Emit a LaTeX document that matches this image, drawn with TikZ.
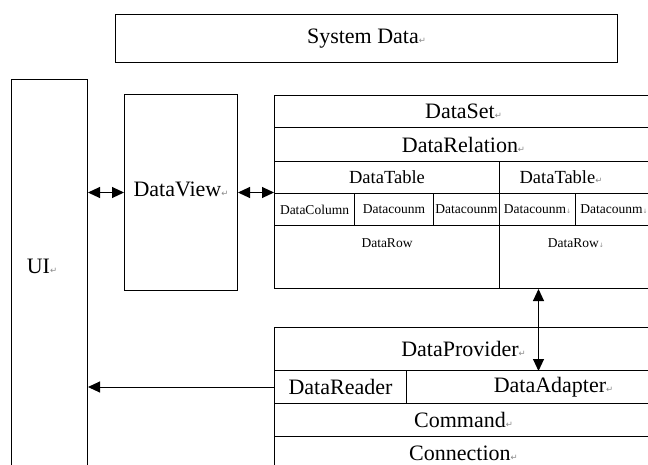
\documentclass[tikz,border=0pt]{standalone}
\usepackage{fontspec}
\setmainfont{Liberation Serif}
\newfontfamily\markfont{DejaVu Sans}
\usepackage{tikz}
\usetikzlibrary{arrows.meta}
\usepackage{xcolor}
\definecolor{markgray}{HTML}{8A8A8A}
% Word-style paragraph and line-break marks
\newcommand{\pmark}{{\markfont\fontsize{8.5}{8.5}\selectfont\textcolor{markgray}{↵}}}
\newcommand{\lmark}{{\markfont\fontsize{6}{6}\selectfont\textcolor{markgray}{↓}}}

\begin{document}
\begin{tikzpicture}[
    x=1pt, y=-1pt,
    >={Triangle[length=12pt, width=11pt]},
    cell/.style 2 args={draw, line width=1pt, inner sep=0pt, anchor=north west,
        minimum width=#1pt, minimum height=#2pt, font=\fontsize{22}{22}\selectfont},
    tabletext/.style={font=\fontsize{18.5}{18.5}\selectfont},
    smalltext/.style={font=\fontsize{13.5}{13.5}\selectfont},
    link/.style={line width=1pt}
]
    \useasboundingbox (0,0) rectangle (648,464);

    \node[cell={502}{48}] (sysdata) at (115,14) {System Data\pmark};

    % UI and DataView columns
    \node[cell={76}{420}] (ui) at (11,79) {};
    \node[font=\fontsize{22}{22}\selectfont] (uitext) at (42,266) {UI\pmark};
    \node[cell={113}{196}] (dataview) at (124,94) {\raisebox{6pt}{DataView\pmark}};

    % DataSet block
    \node[cell={378}{32}] (dataset) at (274,95) {DataSet\pmark};
    \node[cell={378}{34}] (relation) at (274,127) {DataRelation\pmark};
    \node[cell={225}{32}, tabletext] (tableleft) at (274,161) {DataTable};
    \node[cell={153}{32}, tabletext] (tableright) at (499,161) {\hspace*{-30pt}DataTable\pmark};
    \node[cell={80}{32}, smalltext] (col1) at (274,193) {DataColumn};
    \node[cell={79}{32}, smalltext] (col2) at (354,193) {Datacounm};
    \node[cell={66}{32}, smalltext] (col3) at (433,193) {Datacounm};
    \node[cell={76}{32}, smalltext] (col4) at (499,193) {Datacounm\lmark};
    \node[cell={77}{32}, smalltext] (col5) at (575,193) {Datacounm\lmark};
    \node[cell={225}{63}] (rowleft) at (274,225) {};
    \node[cell={153}{63}] (rowright) at (499,225) {};
    \node[smalltext] (rowlefttext) at ([yshift=-18pt]rowleft.north) {DataRow};
    \node[smalltext] (rowrighttext) at ([yshift=-18pt]rowright.north) {DataRow\lmark};

    % data provider stack
    \node[cell={378}{43}] (provider) at (274,327) {\raisebox{-2pt}{DataProvider\pmark}};
    \node[cell={132}{33}] (reader) at (274,370) {DataReader};
    \node[cell={246}{33}] (adapter) at (406,370) {\hspace*{48pt}DataAdapter\pmark};
    \node[cell={378}{33}] (command) at (274,403) {Command\pmark};
    \node[cell={378}{44}] (connection) at (274,436) {\raisebox{11pt}{Connection\pmark}};

    \draw[link, <->] (dataview.west) -- (dataview.west -| ui.east);
    \draw[link, <->] (dataview.east) -- (dataview.east -| tableleft.west);
    \draw[link, <->] ([xshift=-37.5pt]rowright.south) -- ([xshift=-37.5pt]rowright.south |- provider.south);
    \draw[link, ->] (reader.west) -- (reader.west -| ui.east);
\end{tikzpicture}
\end{document}
